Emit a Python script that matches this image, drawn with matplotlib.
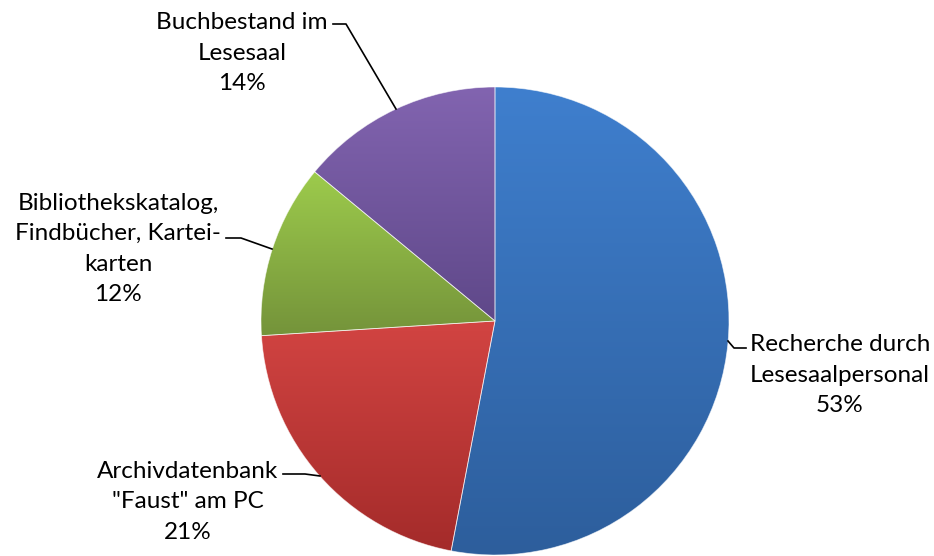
import numpy as np
import matplotlib
matplotlib.use("Agg")
import matplotlib.pyplot as plt
from matplotlib.colors import LinearSegmentedColormap

plt.rcParams['font.family'] = ['Lato', 'DejaVu Sans']

labels = ["Recherche durch\nLesesaalpersonal", "Archivdatenbank\n\"Faust\" am PC",
          "Bibliothekskatalog,\nFindbücher, Kartei-\nkarten", "Buchbestand im\nLesesaal"]
values = [53, 21, 12, 14]
top_colors = ["#3f7fce", "#d24442", "#9dcb4c", "#8264b0"]
bottom_colors = ["#2d5e9c", "#a42b2a", "#74933a", "#5f4889"]

W, H = 934, 556
fig = plt.figure(figsize=(W / 100, H / 100), dpi=100)
ax = fig.add_axes([0, 0, 1, 1])

cx, cy, r = 495, H - 321, 234
wedges, _ = ax.pie(values, center=(cx, cy), radius=r, startangle=90,
                   counterclock=False, frame=True,
                   wedgeprops=dict(linewidth=0, edgecolor='none'))

grad = np.linspace(1, 0, 256).reshape(-1, 1)
for w, tc, bc in zip(wedges, top_colors, bottom_colors):
    w.set_facecolor('none')
    bb = w.get_path().get_extents()
    cmap = LinearSegmentedColormap.from_list('g', [bc, tc])
    im = ax.imshow(grad, cmap=cmap, aspect='auto', origin='upper',
                   extent=[bb.x0, bb.x1, bb.y0, bb.y1], zorder=1,
                   interpolation='bilinear')
    im.set_clip_path(w)
    w.set_edgecolor((1, 1, 1, 0.6))
    w.set_linewidth(0.6)
    w.set_zorder(2)

ax.set_xlim(0, W)
ax.set_ylim(0, H)
ax.axis('off')

pcts = [f"{v}%" for v in values]
label_pos = [(840, 375), (188, 502), (118, 249), (242, 53)]
for lab, pct, (x, y) in zip(labels, pcts, label_pos):
    ax.text(x, H - y, lab + "\n" + pct, ha='center', va='center',
            multialignment='center', fontsize=17.5, color='black',
            linespacing=1.55, zorder=5)

leaders = [
    [(746, 348), (734, 348), (728, 341)],
    [(283, 474), (305, 474), (320, 476)],
    [(226, 238), (241, 238), (272, 249)],
    [(333, 24), (346, 24), (396, 109)],
]
for pts in leaders:
    xs = [p[0] for p in pts]
    ys = [H - p[1] for p in pts]
    ax.plot(xs, ys, color='black', lw=1.2, zorder=4)

fig.savefig("out.png", dpi=100)
